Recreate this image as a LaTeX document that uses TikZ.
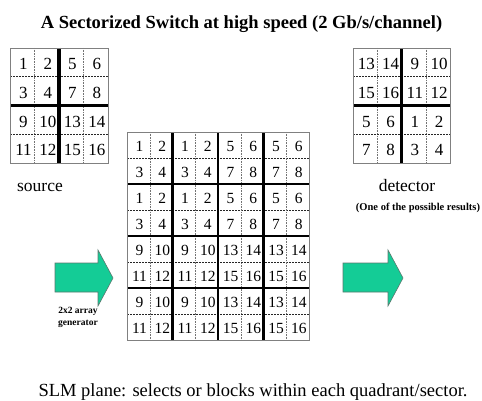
\documentclass[tikz,border=0pt]{standalone}
\usepackage{fontspec}
\setmainfont{Liberation Serif}
\definecolor{arrowgreen}{RGB}{20,204,150}
\definecolor{arrowedge}{RGB}{90,120,110}
\definecolor{bordergray}{RGB}{128,128,128}
\tikzset{
  outerbox/.style={draw=bordergray, line width=0.9pt},
  thickline/.style={draw=black, line width=3pt},
  dashline/.style={draw=black!85, line width=0.9pt, dash pattern=on 2.2pt off 0.8pt},
  dotline/.style={draw=black!55, line width=0.5pt, dash pattern=on 0.8pt off 0.8pt},
  num/.style={inner sep=0pt, anchor=center},
  bigarrow/.style={fill=arrowgreen, draw=arrowedge, line width=0.6pt},
  label/.style={inner sep=0pt, anchor=base}
}
% #1 x0, #2 y0, #3 cell w, #4 cell h, #5 n, #6 name, #7 font size, #8 mode (0 normal, 1 reversed quadrants), #9 thick width
\newcommand{\mysecgrid}[9]{%
  \pgfmathtruncatemacro\nmax{#5-1}%
  \pgfmathsetmacro\gx{#1+#5*#3}%
  \pgfmathsetmacro\gy{#2+#5*#4}%
  \foreach \i in {1,3,...,\nmax}{%
    \draw[dotline] ({#1+\i*#3},#2) -- ({#1+\i*#3},\gy);
    \draw[dashline] (#1,{#2+\i*#4}) -- (\gx,{#2+\i*#4});
  }%
  \foreach \i in {2,4,6}{%
    \ifnum\i<#5
      \draw[thickline, line width=#9] ({#1+\i*#3},#2) -- ({#1+\i*#3},\gy);
      \draw[thickline, line width=#9] (#1,{#2+\i*#4}) -- (\gx,{#2+\i*#4});
    \fi
  }%
  \draw[outerbox] (#1,#2) rectangle (\gx,\gy);
  \foreach \r in {0,...,\nmax}{%
    \foreach \c in {0,...,\nmax}{%
      \pgfmathtruncatemacro\qr{floor(\r/(#5/2))}%
      \pgfmathtruncatemacro\qc{floor(\c/(#5/2))}%
      \pgfmathtruncatemacro\val{8*abs(#8-\qr)+4*abs(#8-\qc)+2*mod(\r,2)+mod(\c,2)+1}%
      \node[num, font=\fontsize{#7}{#7}\selectfont] (#6-\r-\c) at ({#1+(\c+0.55)*#3},{#2+(\r+0.56)*#4}) {\val};
    }%
  }%
}
\begin{document}
\begin{tikzpicture}[x=1pt,y=-1pt]
  \useasboundingbox (0,0) rectangle (482,401);
  \clip (0,0) rectangle (482,401);
  % title
  \node[label, font=\fontsize{18.5}{20}\selectfont\bfseries] (title) at (241.5,29) {A Sectorized Switch at high speed (2 Gb/s/channel)};
  % source grid
  \mysecgrid{10}{48}{24.5}{28.75}{4}{s}{17}{0}{3.5pt}
  \node[label, font=\fontsize{17.5}{18}\selectfont] (source) at (40,191) {source};
  % detector grid
  \mysecgrid{353}{48}{24.25}{28.75}{4}{d}{17}{1}{3.5pt}
  \node[label, font=\fontsize{17.5}{18}\selectfont] (detector) at (407,191) {detector};
  \node[label, font=\fontsize{10.5}{11}\selectfont\bfseries] (result) at (418,211) {(One of the possible results)};
  % middle SLM grid
  \mysecgrid{127}{132}{22.75}{26}{8}{m}{15.5}{0}{2.6pt}
  % arrows
  \draw[bigarrow] (55,263) -- (98,263) -- (98,250) -- (113,278) -- (98,306) -- (98,292) -- (55,292) -- cycle;
  \draw[bigarrow] (343,263) -- (388,263) -- (388,250) -- (403,278) -- (388,306) -- (388,292) -- (343,292) -- cycle;
  \node[label, font=\fontsize{9.5}{10}\selectfont\bfseries] (gen1) at (78,313) {2x2 array};
  \node[label, font=\fontsize{9.5}{10}\selectfont\bfseries] (gen2) at (78,325) {generator};
  % caption
  \node[label, font=\fontsize{18.5}{20}\selectfont] (caption) at (253,396) {SLM plane: selects or blocks within each quadrant/sector.};
\end{tikzpicture}
\end{document}
